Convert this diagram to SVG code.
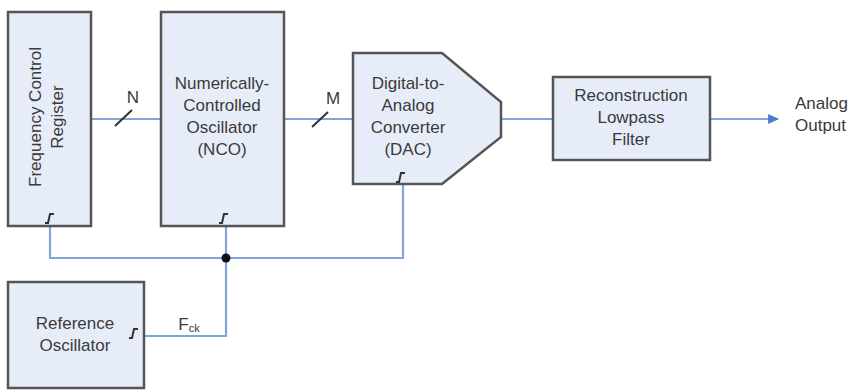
<svg xmlns="http://www.w3.org/2000/svg" width="852" height="390" viewBox="0 0 852 390">
<style>
.box{fill:#e7edf8;stroke:#555;stroke-width:2.5}
.t{font-family:"Liberation Sans",Arial,sans-serif;font-size:17px;fill:#3a3a3a;text-anchor:middle}
.s{text-anchor:start}
.w{fill:none;stroke:#7fa5dc;stroke-width:2.2}
.clk{fill:none;stroke:#333;stroke-width:2}
.sl{stroke:#333;stroke-width:2}
</style>
<defs>
<marker id="ah" viewBox="0 0 10 10" refX="9" refY="5" markerWidth="11" markerHeight="10" orient="auto" markerUnits="userSpaceOnUse" preserveAspectRatio="none">
<path d="M0,0 L10,5 L0,10 z" fill="#4a7cc8"/>
</marker>
</defs>
<g id="connectors">
<line class="w" x1="91" y1="119" x2="161" y2="119"/>
<line class="sl" x1="115" y1="126" x2="132" y2="110"/>
<line class="w" x1="284" y1="119" x2="353" y2="119"/>
<line class="sl" x1="312" y1="127" x2="328" y2="112"/>
<line class="w" x1="501" y1="119" x2="553" y2="119"/>
<line class="w" x1="710" y1="119" x2="778" y2="119" marker-end="url(#ah)"/>
<polyline class="w" points="50,226 50,258 403,258 403,184"/>
<line class="w" x1="226" y1="226" x2="226" y2="258"/>
<polyline class="w" points="144,336 226,336 226,258"/>
<circle cx="226" cy="258" r="4.5" fill="#111"/>
<text class="t" x="133" y="103">N</text>
<text class="t" x="333" y="104">M</text>
<text class="t" x="189" y="330">F<tspan font-size="11" dy="2">ck</tspan></text>
</g>
<g id="fcr">
<rect class="box" x="8" y="12" width="83" height="214"/>
<text class="t" transform="translate(41,117) rotate(-90)">Frequency Control</text>
<text class="t" transform="translate(63,117) rotate(-90)">Register</text>
<path class="clk" d="M45,223 h3 l2,-9 h4"/>
</g>
<g id="nco">
<rect class="box" x="161" y="12" width="123" height="214"/>
<text class="t" x="222" y="89">Numerically-</text>
<text class="t" x="222" y="111">Controlled</text>
<text class="t" x="222" y="133">Oscillator</text>
<text class="t" x="222" y="155">(NCO)</text>
<path class="clk" d="M219,223 h3 l2,-9 h4"/>
</g>
<g id="dac">
<path class="box" d="M353,53 H442 L501,102 V137 L442,184 H353 Z"/>
<text class="t" x="408" y="89">Digital-to-</text>
<text class="t" x="408" y="111">Analog</text>
<text class="t" x="408" y="133">Converter</text>
<text class="t" x="408" y="155">(DAC)</text>
<path class="clk" d="M396,182 h3 l2,-9 h4"/>
</g>
<g id="filter">
<rect class="box" x="553" y="77" width="157" height="83"/>
<text class="t" x="631" y="101">Reconstruction</text>
<text class="t" x="631" y="123">Lowpass</text>
<text class="t" x="631" y="145">Filter</text>
</g>
<g id="output">
<text class="t s" x="795" y="109">Analog</text>
<text class="t s" x="795" y="131">Output</text>
</g>
<g id="refosc">
<rect class="box" x="8" y="282" width="136" height="106"/>
<text class="t" x="75" y="329">Reference</text>
<text class="t" x="75" y="351">Oscillator</text>
<path class="clk" d="M129,338 h3 l2,-9 h4"/>
</g>
</svg>
